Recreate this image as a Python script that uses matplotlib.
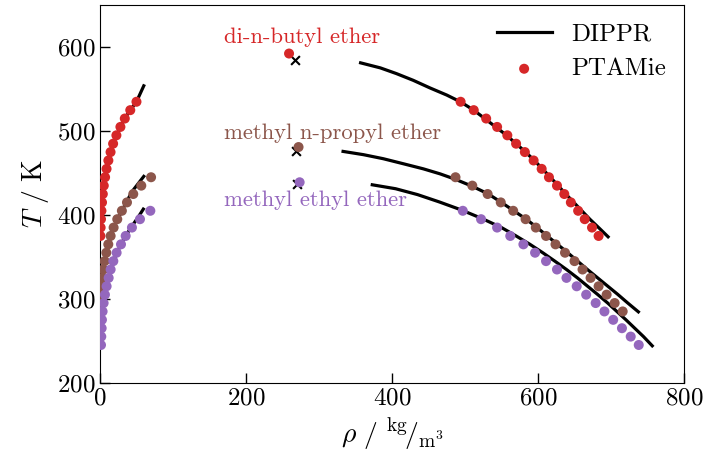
import matplotlib.pyplot as plt

plt.rcParams.update({
    "font.family": "serif",
    "font.serif": ["cmr10"],
    "mathtext.fontset": "cm",
    "axes.formatter.use_mathtext": True,
})

RED = "tab:red"
BROWN = "tab:brown"
PURPLE = "tab:purple"

# ---- PTAMie coexistence points ----
# di-n-butyl ether
T_dbe = [535, 525, 515, 505, 495, 485, 475, 465, 455, 445, 435, 425, 415, 405, 395, 385, 375]
rho_liq_dbe = [494, 512, 529, 544, 558, 570, 582, 594, 605, 615, 626, 636, 645, 655, 664, 674, 683]
rho_vap_dbe = [50, 41.5, 34, 28, 22.5, 18, 14.5, 11.5, 9, 7, 5.2, 3.9, 2.8, 2.0, 1.4, 0.9, 0.6]

# methyl n-propyl ether
T_mpe = [445, 435, 425, 415, 405, 395, 385, 375, 365, 355, 345, 335, 325, 315, 305, 295, 285]
rho_liq_mpe = [487, 510, 531, 549, 566, 583, 597, 611, 624, 637, 650, 661, 672, 683, 694, 705, 716]
rho_vap_mpe = [70, 56.6, 45.6, 37, 30, 23.7, 18.7, 14.6, 11.4, 8.7, 6.4, 4.6, 3.2, 2.3, 1.8, 1.3, 0.9]

# methyl ethyl ether
T_mee = [405, 395, 385, 375, 365, 355, 345, 335, 325, 315, 305, 295, 285, 275, 265, 255, 245]
rho_liq_mee = [497, 522, 544, 562, 580, 596, 611, 626, 639, 653, 666, 679, 691, 703, 715, 727, 738]
rho_vap_mee = [69, 54.8, 43.8, 35.2, 28.8, 22.8, 18.3, 14.6, 11.9, 9.1, 6.8, 5.0, 3.6, 2.7, 2.3, 1.8, 1.4]

# critical points (PTAMie dots, DIPPR crosses)
crit_rho_pta = [259, 272, 273.5]
crit_T_pta = [592.5, 481, 439]
crit_rho_dippr = [267, 268, 270]
crit_T_dippr = [584.5, 476.5, 437]

# ---- DIPPR correlations ----
dippr_liq_dbe_rho = [357, 384, 406, 429, 452, 475, 494, 512, 527, 542, 557, 570,
                     583, 595, 606, 617, 627.5, 638, 649, 660, 671, 683, 696]
dippr_liq_dbe_T = [581.4, 575.4, 568.6, 560.6, 551.5, 543, 534.8, 525, 515, 505, 495, 485,
                   475, 465, 455, 445, 435, 425, 415, 405, 395, 385, 374]
dippr_vap_dbe_rho = [0.6, 1.4, 2.8, 5.2, 9, 14.5, 22.5, 34, 41.5, 50, 60]
dippr_vap_dbe_T = [375, 395, 415, 435, 455, 475, 495, 515, 525, 535, 554]

dippr_liq_mpe_rho = [333, 361, 388, 415.5, 443, 466, 487, 510.5, 532, 549, 566, 583,
                     598, 612, 626, 640, 653.5, 667, 681, 695, 709, 723, 737.5]
dippr_liq_mpe_T = [475.8, 471.9, 467.1, 461.1, 455, 449, 442.5, 434, 425, 415.5, 405.5, 395.5,
                   385.5, 375.5, 365.5, 355.5, 345.5, 335.5, 325.5, 315.5, 305.5, 295, 284.5]
dippr_vap_mpe_rho = [0.9, 1.8, 3.2, 6.4, 11.4, 18.7, 26, 36, 44, 52, 60]
dippr_vap_mpe_T = [285, 305, 325, 345, 365, 385, 398, 415, 428, 437, 446]

dippr_liq_mee_rho = [373, 405, 435, 465, 495, 524, 550, 570, 589, 606.5, 623, 639,
                     654, 668, 682, 695.5, 708, 720.5, 732.5, 744.5, 756.5]
dippr_liq_mee_T = [436, 431.3, 424.3, 415.5, 406, 395.5, 385, 375, 365, 355, 345, 335,
                   325, 315, 305, 295, 285, 275, 265, 255, 244]
dippr_vap_mee_rho = [1.4, 2.3, 3.6, 6.8, 11.9, 18.3, 26, 35, 44, 52, 59.4]
dippr_vap_mee_T = [245, 265, 285, 305, 325, 345, 360, 375, 387, 397, 407]

fig = plt.figure(figsize=(7.04, 4.54), dpi=100)
ax = fig.add_axes([0.142, 0.157, 0.8296, 0.8313])

lw = 2.3
for rho, T in [
    (dippr_liq_dbe_rho, dippr_liq_dbe_T), (dippr_vap_dbe_rho, dippr_vap_dbe_T),
    (dippr_liq_mpe_rho, dippr_liq_mpe_T), (dippr_vap_mpe_rho, dippr_vap_mpe_T),
    (dippr_liq_mee_rho, dippr_liq_mee_T), (dippr_vap_mee_rho, dippr_vap_mee_T),
]:
    ax.plot(rho, T, color="black", lw=lw, zorder=2, solid_joinstyle="round")
ax.plot([], [], color="black", lw=lw, label="DIPPR")

ax.scatter(crit_rho_dippr, crit_T_dippr, marker="x", color="black",
           s=40, linewidths=1.5, zorder=3)

ms = 52
for T, liq, vap, c in [
    (T_dbe, rho_liq_dbe, rho_vap_dbe, RED),
    (T_mpe, rho_liq_mpe, rho_vap_mpe, BROWN),
    (T_mee, rho_liq_mee, rho_vap_mee, PURPLE),
]:
    ax.scatter(liq, T, s=ms, color=c, edgecolors="none", zorder=4)
    ax.scatter(vap, T, s=ms, color=c, edgecolors="none", zorder=4)

crit_colors = [RED, BROWN, PURPLE]
ax.scatter(crit_rho_pta, crit_T_pta, s=ms, color=crit_colors,
           edgecolors="none", zorder=4)
ax.scatter([], [], s=ms, color=RED, edgecolors="none", label="PTAMie")

ax.text(170, 612, "di-n-butyl ether", color=RED, fontsize=16.3, va="center")
ax.text(170, 497, "methyl n-propyl ether", color=BROWN, fontsize=16.3, va="center")
ax.text(170, 418, "methyl ethyl ether", color=PURPLE, fontsize=16.3, va="center")

ax.set_xlim(0, 800)
ax.set_ylim(200, 650)
ax.set_xticks([0, 200, 400, 600, 800])
ax.set_yticks([200, 300, 400, 500, 600])
ax.tick_params(direction="in", length=7, width=1, labelsize=18)

ax.set_xlabel(r"$\rho\ /\ {}^{\mathrm{kg}}\!/_{\mathrm{m}^3}$", fontsize=20)
ax.set_ylabel(r"$T\ /\ \mathrm{K}$", fontsize=20)

ax.legend(loc="upper right", frameon=False, fontsize=18, handlelength=2.2,
          borderaxespad=0.3)

fig.savefig("out.png", dpi=100)
